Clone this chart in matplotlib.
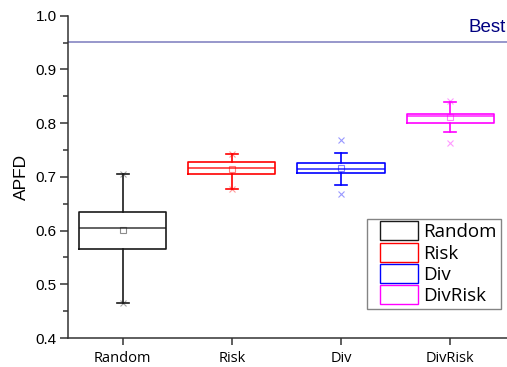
import matplotlib.pyplot as plt
from matplotlib.patches import Patch, Rectangle
from matplotlib.legend_handler import HandlerPatch

# APFD summary per technique
labels = ['Random', 'Risk', 'Div', 'DivRisk']
colors = ['#1a1a1a', '#ff0000', '#0000ff', '#ff00ff']
q1 = [0.565, 0.706, 0.708, 0.801]
med = [0.605, 0.717, 0.714, 0.813]
q3 = [0.635, 0.727, 0.725, 0.817]
whislo = [0.466, 0.677, 0.685, 0.783]
whishi = [0.706, 0.743, 0.744, 0.839]
means = [0.602, 0.715, 0.717, 0.811]
mins = [0.466, 0.677, 0.669, 0.763]
maxs = [0.706, 0.743, 0.768, 0.841]
best = 0.952


class RightBox(HandlerPatch):
    # legend swatch drawn in the right part of the handle slot
    def create_artists(self, legend, orig_handle, xdescent, ydescent,
                       width, height, fontsize, trans):
        w = width * 0.82
        p = Rectangle((-xdescent + width - w, -ydescent - 1), w, height + 2)
        self.update_prop(p, orig_handle, legend)
        p.set_transform(trans)
        return [p]


fig = plt.figure(figsize=(5.07, 3.67), dpi=100)
ax = fig.add_axes([0.134, 0.079, 0.866, 0.878])

positions = range(1, len(labels) + 1)
for i, pos in enumerate(positions):
    c = colors[i]
    stats = [dict(q1=q1[i], med=med[i], q3=q3[i], whislo=whislo[i],
                  whishi=whishi[i], mean=means[i], fliers=[])]
    ax.bxp(stats, positions=[pos], widths=0.8, showmeans=True,
           boxprops=dict(color=c, lw=1.2),
           medianprops=dict(color=c, lw=1.2, alpha=0.8),
           whiskerprops=dict(color=c, lw=1.2),
           capprops=dict(color=c, lw=1.2),
           capwidths=0.11,
           meanprops=dict(marker='s', markersize=4, markerfacecolor='none',
                          markeredgecolor=c, markeredgewidth=0.8, alpha=0.5))
    ax.plot([pos, pos], [mins[i], maxs[i]], ls='none', marker='x',
            markersize=4, color=c, alpha=0.4, mew=0.8)

ax.axhline(best, color='#8585c2', lw=1.2)
ax.text(4.51, best + 0.011, 'Best', ha='right', va='bottom', color='#000080',
        fontsize=13.5, family='Liberation Sans')

ax.set_xlim(0.5, 4.52)
ax.set_ylim(0.4, 1.0)
ax.set_xticks(list(positions))
ax.set_xticklabels(labels, family='Open Sans', fontsize=10.5)
ax.set_yticks([0.4, 0.5, 0.6, 0.7, 0.8, 0.9, 1.0])
ax.set_yticks([0.45, 0.55, 0.65, 0.75, 0.85, 0.95], minor=True)
for t in ax.get_yticklabels():
    t.set_family('Liberation Sans')
    t.set_fontsize(11)
ax.set_ylabel('APFD', family='Liberation Sans', fontsize=12.5, labelpad=5)

for s in ['top', 'right']:
    ax.spines[s].set_visible(False)
for s in ['left', 'bottom']:
    ax.spines[s].set_color('#333333')
    ax.spines[s].set_linewidth(1.1)
ax.tick_params(axis='y', which='major', direction='out', length=6, width=1.1, color='#333333', pad=2)
ax.tick_params(axis='y', which='minor', direction='out', length=3.5, width=1.1, color='#333333')
ax.tick_params(axis='x', direction='out', length=5, width=1.1, color='#333333', pad=4)

handles = [Patch(facecolor='white', edgecolor=c, lw=1.0) for c in colors]
leg = ax.legend(handles, labels, loc='lower right', bbox_to_anchor=(0.986, 0.09),
                prop=dict(family='Open Sans', size=13.5), frameon=True, fancybox=False,
                handler_map={Patch: RightBox()},
                handlelength=2.5, handleheight=0.95, labelspacing=0.15,
                handletextpad=0.3, borderpad=0.2, borderaxespad=0)
leg.get_frame().set_edgecolor('#666666')
leg.get_frame().set_linewidth(1.0)

fig.savefig('out.png', dpi=100)
